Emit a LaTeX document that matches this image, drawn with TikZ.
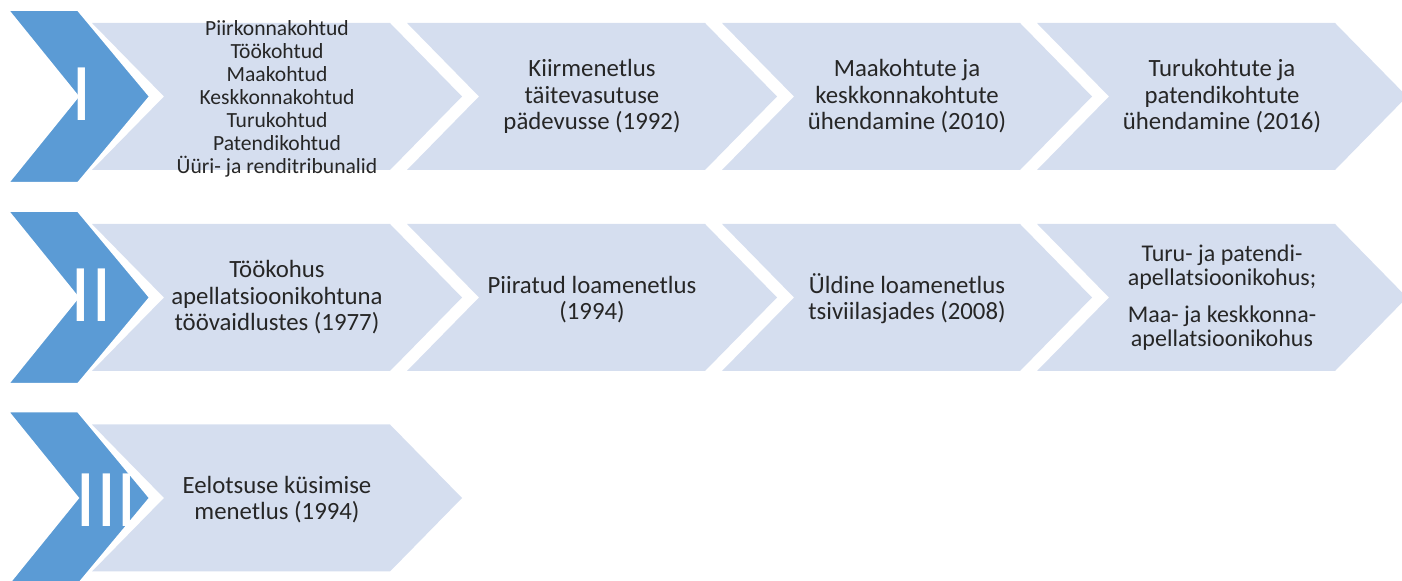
\documentclass[tikz,border=0pt]{standalone}
\usepackage{fontspec}
\setmainfont{Carlito}
\definecolor{chevdark}{RGB}{91,155,213}
\definecolor{chevlight}{RGB}{213,222,239}
\definecolor{txtgray}{RGB}{38,38,38}
\tikzset{
  lightchev/.style={fill=chevlight},
  darkchev/.style={fill=chevdark, draw=white, line width=1pt},
  lbl/.style={align=center, text=txtgray, inner sep=0pt,
    font=\fontsize{12.4}{13.25}\selectfont},
  numeral/.style={text=white, inner sep=0pt, font=\fontsize{41}{41}\selectfont}
}
\begin{document}
\begin{tikzpicture}[x=0.5pt,y=-0.5pt]
 \useasboundingbox (0,0) rectangle (1402,581);

 %row I
 \def\dy{96.5}
 \foreach \i in {0,...,3} {
   \fill[lightchev] (92+\i*315,\dy-73.5) -- ++(298,0) -- ++(72,73.5) -- ++(-72,73.5) -- ++(-298,0) -- ++(72,-73.5) -- cycle;
 }
 \draw[darkchev] (8,\dy-86.5) -- (78,\dy-86.5) -- (150,\dy) -- (78,\dy+86.5) -- (8,\dy+86.5) -- (78,\dy) -- cycle;
 \node[numeral] (N1) at (81.5,\dy-2) {I};
 \node[lbl, font=\fontsize{10.8}{11.5}\selectfont] (A1) at (277,\dy+2) {Piirkonnakohtud\\Töökohtud\\Maakohtud\\Keskkonnakohtud\\Turukohtud\\Patendikohtud\\Üüri- ja renditribunalid};
 \node[lbl] (A2) at (277+315,\dy) {Kiirmenetlus\\täitevasutuse\\pädevusse (1992)};
 \node[lbl] (A3) at (277+630,\dy) {Maakohtute ja\\keskkonnakohtute\\ühendamine (2010)};
 \node[lbl] (A4) at (277+945,\dy) {Turukohtute ja\\patendikohtute\\ühendamine (2016)};

 %row II
 \def\dy{297.5}
 \foreach \i in {0,...,3} {
   \fill[lightchev] (92+\i*315,\dy-73.5) -- ++(298,0) -- ++(72,73.5) -- ++(-72,73.5) -- ++(-298,0) -- ++(72,-73.5) -- cycle;
 }
 \draw[darkchev] (8,\dy-86.5) -- (78,\dy-86.5) -- (150,\dy) -- (78,\dy+86.5) -- (8,\dy+86.5) -- (78,\dy) -- cycle;
 \node[numeral] (N2) at (91,\dy-2) {II};
 \node[lbl] (B1) at (277,\dy) {Töökohus\\apellatsioonikohtuna\\töövaidlustes (1977)};
 \node[lbl] (B2) at (277+315,\dy+2) {Piiratud loamenetlus\\(1994)};
 \node[lbl] (B3) at (277+630,\dy+1) {Üldine loamenetlus\\tsiviilasjades (2008)};
 \node[lbl, font=\fontsize{12}{12}\selectfont] (B4) at (277+945,\dy) {Turu- ja patendi-\\apellatsioonikohus;\\[6.5pt]Maa- ja keskkonna-\\apellatsioonikohus};

 %row III
 \def\dy{498}
 \fill[lightchev] (92,\dy-73.5) -- ++(298,0) -- ++(72,73.5) -- ++(-72,73.5) -- ++(-298,0) -- ++(72,-73.5) -- cycle;
 \draw[darkchev] (8,\dy-86.5) -- (78,\dy-86.5) -- (150,\dy) -- (78,\dy+86.5) -- (8,\dy+86.5) -- (78,\dy) -- cycle;
 \node[numeral] (N3) at (106.5,\dy+2) {III};
 \node[lbl] (C1) at (277,\dy+1.5) {Eelotsuse küsimise\\menetlus (1994)};

\end{tikzpicture}
\end{document}
